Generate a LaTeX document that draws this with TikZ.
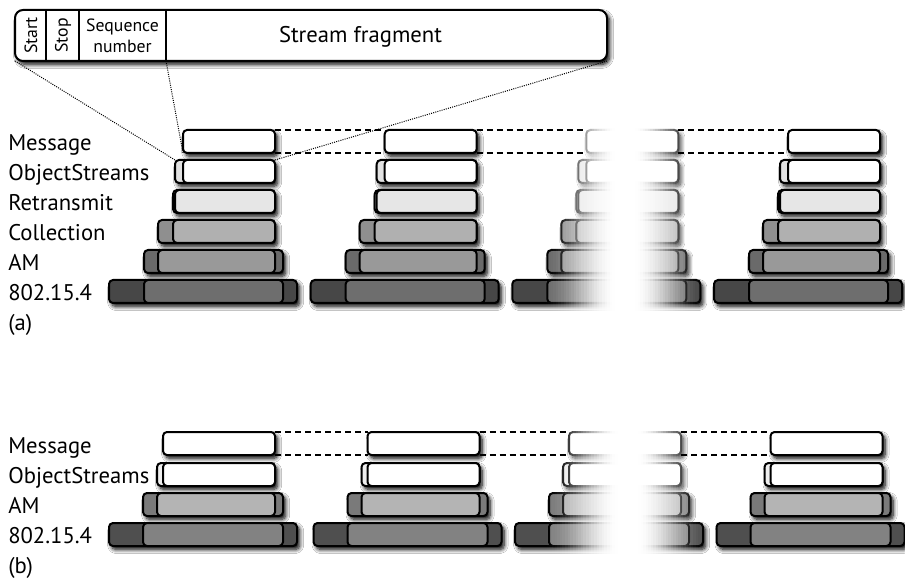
\documentclass[tikz,border=0pt]{standalone}
\usepackage{fontspec}
\setmainfont{PT Sans}
\usetikzlibrary{shadows.blur}

% greys of the protocol layers
\definecolor{aOSh}{HTML}{E2E2E2}
\definecolor{aRET}{HTML}{E6E6E6}
\definecolor{aCOLh}{HTML}{8F8F8F}
\definecolor{aCOL}{HTML}{B0B0B0}
\definecolor{aAMh}{HTML}{6A6A6A}
\definecolor{aAM}{HTML}{999999}
\definecolor{aPHYh}{HTML}{474747}
\definecolor{aPHY}{HTML}{6E6E6E}
\definecolor{bOSh}{HTML}{EFEFEF}
\definecolor{bAMh}{HTML}{7A7A7A}
\definecolor{bAM}{HTML}{B4B4B4}
\definecolor{bPHYh}{HTML}{4F4F4F}
\definecolor{bPHY}{HTML}{828282}

\tikzset{
  slab/.style={draw=black, line width=1.5pt, rounded corners=3pt, inner sep=0pt,
    outer sep=0pt, anchor=north west, minimum height=17.25pt},
  shadowed/.style={blur shadow={shadow xshift=2pt, shadow yshift=-2.6pt,
    shadow blur radius=3pt, shadow blur steps=8, shadow opacity=100}},
  lbl/.style={anchor=base west, inner sep=0pt, font=\fontsize{17pt}{20pt}\selectfont},
  small/.style={inner sep=0pt, align=center, font=\fontsize{13.3pt}{15pt}\selectfont},
  dashline/.style={line width=0.8pt, dash pattern=on 4.5pt off 3pt},
  dotline/.style={line width=0.75pt, dash pattern=on 0.75pt off 0.9pt},
}

% one protocol layer: header part (#1-hdr) with its payload (#1) on top
% #2,#3 outer x range, #4,#5 payload x range, #6 top y, #7 header colour, #8 payload colour
\newcommand\layer[8]{%
  \node[slab, shadowed, fill=#7, minimum width={((#3)-(#2))*0.75pt}] (#1-hdr) at ({#2},{#6}) {};
  \node[slab, fill=#8, minimum width={((#5)-(#4))*0.75pt}] (#1) at ({#4},{#6}) {};
}
\newcommand\msgslab[4]{%
  \node[slab, shadowed, fill=white, minimum width={((#3)-(#2))*0.75pt}] (#1) at ({#2},{#4}) {};
}

% full stack with retransmission and collection
\newcommand\stackfull[2]{%
  \layer{#1-phy}{109+#2}{297+#2}{144+#2}{283+#2}{280}{aPHYh}{aPHY}
  \layer{#1-am}{144+#2}{283+#2}{158+#2}{275+#2}{250}{aAMh}{aAM}
  \layer{#1-col}{158+#2}{275+#2}{173+#2}{275+#2}{220}{aCOLh}{aCOL}
  \layer{#1-ret}{173+#2}{275+#2}{175+#2}{275+#2}{190}{aRET}{aRET}
  \layer{#1-os}{175+#2}{275+#2}{183+#2}{275+#2}{160}{aOSh}{white}
  \msgslab{#1-msg}{183+#2}{275+#2}{130}
}
% reduced stack
\newcommand\stacklite[2]{%
  \layer{#1-phy}{109+#2}{297+#2}{143+#2}{283+#2}{523}{bPHYh}{bPHY}
  \layer{#1-am}{143+#2}{283+#2}{157+#2}{275+#2}{493}{bAMh}{bAM}
  \layer{#1-os}{157+#2}{275+#2}{163+#2}{275+#2}{463}{bOSh}{white}
  \msgslab{#1-msg}{163+#2}{275+#2}{432}
}

% white wash over the middle of a stack, built from nested translucent bands
% #1 centre x, #2 reach to the left, #3 reach to the right, #4 top y, #5 bottom y
\newcommand\washout[5]{%
  \gdef\wprev{0}%
  \foreach \k in {1,...,32}{
    \pgfmathsetmacro\ws{(33-\k)/32}
    \pgfmathsetmacro\wm{\ws-1/64}
    \pgfmathsetmacro\wo{\wm<0.12 ? 1 : 0.5*(1+cos(180*(\wm-0.12)/0.88))}
    \pgfmathsetmacro\wa{1-(1-\wo)/max(1-\wprev,0.001)}
    \fill[white, fill opacity=\wa] ({#1-#2*\ws},{#4}) rectangle ({#1+#3*\ws},{#5});
    \xdef\wprev{\wo}
  }%
}

\begin{document}
\begin{tikzpicture}[x=0.75pt, y=-0.75pt]
\fill[white] (0,0) rectangle (905,580);
\useasboundingbox (0,0) rectangle (905,580);

% fragment format
\node[slab, shadowed, fill=white, rounded corners=6pt, minimum width=444pt,
  minimum height=38.25pt] (frag) at (15,10) {};
\coordinate (div1n) at (46,10);  \coordinate (div1s) at (46,61);
\coordinate (div2n) at (79,10);  \coordinate (div2s) at (79,61);
\coordinate (div3n) at (166,10); \coordinate (div3s) at (166,61);
\draw[line width=1.5pt] (div1n) -- (div1s) (div2n) -- (div2s) (div3n) -- (div3s);
\node[small, rotate=90] (fstart) at (31,35.5) {Start};
\node[small, rotate=90] (fstop) at (63,35.5) {Stop};
\node[small, anchor=base] (fseq) at (122.5,32) {Sequence};
\node[small, anchor=base] (fnum) at (122.5,53) {number};
\node[lbl, anchor=base] (fpay) at (360.5,42.5) {Stream fragment};

% (a)
\stackfull{a1}{0}
\stackfull{a2}{201.7}
\stackfull{a3}{403.3}
\stackfull{a4}{605}
\washout{625}{82}{80}{120}{316}

% (b)
\stacklite{b1}{0}
\stacklite{b2}{204.5}
\stacklite{b3}{406}
\stacklite{b4}{607.5}
\washout{628}{84}{80}{422}{560}

% message boundaries across the stacks
\foreach \p in {a,b}{
  \draw[dashline] (\p1-msg.north east) -- (\p2-msg.north west)
                  (\p2-msg.north east) -- (\p3-msg.north west)
                  (\p3-msg.north east) -- (\p4-msg.north west);
  \draw[dashline] (\p1-msg.south east) -- (\p2-msg.south west)
                  (\p2-msg.south east) -- (\p3-msg.south west)
                  (\p3-msg.south east) -- (\p4-msg.south west);
}

% fragment mapped onto the ObjectStreams packet
\draw[dotline] (frag.south west) -- (a1-os-hdr.north west);
\draw[dotline] (div3s) -- (a1-msg.south west);
\draw[dotline] (frag.south east) -- (a1-os-hdr.north east);

% layer names
\node[lbl] (la1) at (8,150.5) {Message};
\node[lbl] (la2) at (8,180.5) {ObjectStreams};
\node[lbl] (la3) at (8,210.5) {Retransmit};
\node[lbl] (la4) at (8,240.5) {Collection};
\node[lbl] (la5) at (8,270.5) {AM};
\node[lbl] (la6) at (8,300.5) {802.15.4};
\node[lbl] (la7) at (8,330) {(a)};
\node[lbl] (lb1) at (8,453) {Message};
\node[lbl] (lb2) at (8,483) {ObjectStreams};
\node[lbl] (lb3) at (8,513) {AM};
\node[lbl] (lb4) at (8,543) {802.15.4};
\node[lbl] (lb5) at (8,573) {(b)};
\end{tikzpicture}
\end{document}
